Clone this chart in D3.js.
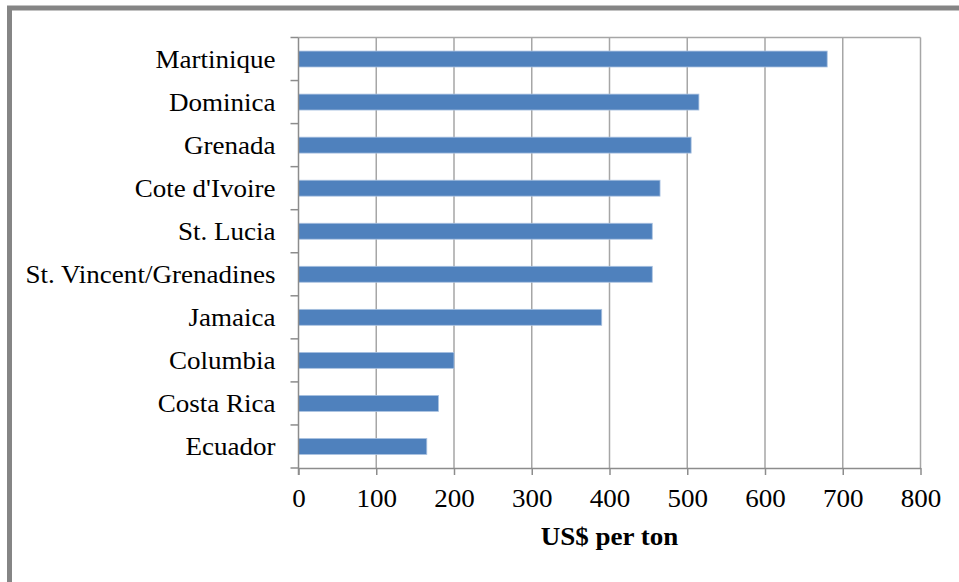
<!DOCTYPE html>
<html>
<head>
<meta charset="utf-8">
<script src="https://cdn.jsdelivr.net/npm/d3@7"></script>
<style>
  html, body { margin: 0; padding: 0; background: #fff; }
  svg { display: block; }
  text { font-family: "Liberation Serif", "Times New Roman", serif; fill: #000; }
</style>
</head>
<body>
<svg id="chart" width="959" height="582"></svg>
<script>
// Price per ton by country
const countries = ["Martinique", "Dominica", "Grenada", "Cote d'Ivoire", "St. Lucia",
  "St. Vincent/Grenadines", "Jamaica", "Columbia", "Costa Rica", "Ecuador"];
const prices = [680, 515, 505, 465, 455, 455, 390, 200, 180, 165];
const xTicks = [0, 100, 200, 300, 400, 500, 600, 700, 800];
const xTitle = "US$ per ton";

const svg = d3.select("#chart");
const W = 959, H = 582;
const plot = { left: 298.5, right: 920.5, top: 37.5, bottom: 468 };
const FONT = "'Liberation Serif', 'Times New Roman', serif";
const FS = "26px";
const SX = 1.04; // slightly wide lettering

// outer frame (thick grey border, running off the right and bottom edges)
svg.append("rect")
  .attr("x", 9.5).attr("y", 8).attr("width", W + 20).attr("height", H + 20)
  .attr("fill", "#fff").attr("stroke", "#858585").attr("stroke-width", 5);

const x = d3.scaleLinear().domain([0, 800]).range([plot.left, plot.right]);
const y = d3.scaleBand().domain(countries).range([plot.top, plot.bottom]).paddingInner(0.63).paddingOuter(0.315);
const yOuter = d3.scaleBand().domain(countries).range([plot.top, plot.bottom]);

// vertical gridlines
svg.append("g").selectAll("line").data(xTicks.slice(1)).join("line")
  .attr("x1", d => x(d)).attr("x2", d => x(d))
  .attr("y1", plot.top).attr("y2", plot.bottom)
  .attr("stroke", "#a6a6a6").attr("stroke-width", 1.5);

// top border of plot
svg.append("line")
  .attr("x1", plot.left).attr("x2", plot.right)
  .attr("y1", plot.top).attr("y2", plot.top)
  .attr("stroke", "#a6a6a6").attr("stroke-width", 1.5);

// bars
svg.append("g").selectAll("rect").data(countries).join("rect")
  .attr("x", x(0))
  .attr("y", d => y(d))
  .attr("width", (d, i) => x(prices[i]) - x(0))
  .attr("height", y.bandwidth())
  .attr("fill", "#4f81bd")
  .attr("stroke", "#a9c1e0").attr("stroke-width", 0.8);

// x axis
const xAxis = svg.append("g")
  .attr("transform", `translate(0,${plot.bottom})`)
  .call(d3.axisBottom(x).tickValues(xTicks).tickSize(7).tickPadding(14).tickSizeOuter(0));
xAxis.select(".domain").attr("stroke", "#8c8c8c").attr("stroke-width", 1.5);
xAxis.selectAll(".tick line").attr("stroke", "#8c8c8c").attr("stroke-width", 1.5);
xAxis.selectAll(".tick text")
  .style("font-family", FONT)
  .style("font-size", FS).attr("fill", "#000")
  .attr("transform", `scale(${SX},1)`)
  .attr("y", 21);

// y axis: ticks sit between categories
const yAxisG = svg.append("g");
yAxisG.append("line")
  .attr("x1", plot.left).attr("x2", plot.left)
  .attr("y1", plot.top).attr("y2", plot.bottom + 7)
  .attr("stroke", "#8c8c8c").attr("stroke-width", 1.5);
const bounds = countries.map(c => yOuter(c)).concat([plot.bottom]);
yAxisG.selectAll("line.tk").data(bounds).join("line").attr("class", "tk")
  .attr("x1", plot.left - 8).attr("x2", plot.left)
  .attr("y1", d => d).attr("y2", d => d)
  .attr("stroke", "#8c8c8c").attr("stroke-width", 1.5);
yAxisG.selectAll("text").data(countries).join("text")
  .attr("transform", d => `translate(${plot.left - 23},${yOuter(d) + yOuter.bandwidth() / 2}) scale(${SX},1)`)
  .attr("dy", "0.34em")
  .attr("text-anchor", "end")
  .style("font-family", FONT)
  .style("font-size", FS)
  .text(d => d);

// axis title
svg.append("text")
  .attr("transform", `translate(${(plot.left + plot.right) / 2},545) scale(${SX},1)`)
  .attr("text-anchor", "middle")
  .style("font-family", FONT)
  .style("font-size", FS).style("font-weight", "bold")
  .text(xTitle);
</script>
</body>
</html>
